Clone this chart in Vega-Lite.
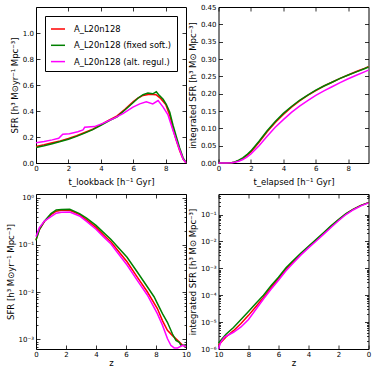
{
  "$schema": "https://vega.github.io/schema/vega-lite/v6.json",
  "padding": {"left": 5, "top": 2, "right": 0, "bottom": 0},
  "background": "white",
  "config": {
    "view": {"stroke": "black", "strokeWidth": 1},
    "font": "DejaVu Sans",
    "axis": {"grid": false, "domain": false, "tickSize": -4, "tickColor": "black", "tickWidth": 0.8,
      "labelFont": "DejaVu Sans", "labelFontSize": 7, "labelColor": "black", "labelFlush": false, "labelOverlap": false,
      "titleFont": "DejaVu Sans", "titleFontSize": 8.5, "titleFontWeight": "normal", "titleColor": "black"},
    "axisX": {"labelPadding": 5, "titlePadding": 1},
    "axisY": {"labelPadding": 6.5, "titlePadding": 3},
    "line": {"strokeWidth": 1.5, "clip": true}
  },
  "datasets": {
    "p1": [
      {"x":0,"y":0.127,"s":"A_L20n128"},{"x":0.5,"y":0.14,"s":"A_L20n128"},{"x":1,"y":0.155,"s":"A_L20n128"},{"x":1.5,"y":0.17,"s":"A_L20n128"},{"x":2,"y":0.188,"s":"A_L20n128"},{"x":2.5,"y":0.21,"s":"A_L20n128"},{"x":3,"y":0.235,"s":"A_L20n128"},{"x":3.5,"y":0.26,"s":"A_L20n128"},{"x":4,"y":0.295,"s":"A_L20n128"},{"x":4.5,"y":0.33,"s":"A_L20n128"},{"x":5,"y":0.362,"s":"A_L20n128"},{"x":5.5,"y":0.415,"s":"A_L20n128"},{"x":6,"y":0.472,"s":"A_L20n128"},{"x":6.3,"y":0.5,"s":"A_L20n128"},{"x":6.6,"y":0.52,"s":"A_L20n128"},{"x":7,"y":0.528,"s":"A_L20n128"},{"x":7.4,"y":0.525,"s":"A_L20n128"},{"x":7.7,"y":0.495,"s":"A_L20n128"},{"x":8.0,"y":0.45,"s":"A_L20n128"},{"x":8.25,"y":0.365,"s":"A_L20n128"},{"x":8.45,"y":0.26,"s":"A_L20n128"},{"x":8.66,"y":0.17,"s":"A_L20n128"},{"x":8.86,"y":0.095,"s":"A_L20n128"},{"x":9.07,"y":0.03,"s":"A_L20n128"},{"x":9.25,"y":0.002,"s":"A_L20n128"},
      {"x":0,"y":0.12,"s":"A_L20n128 (fixed soft.)"},{"x":0.5,"y":0.132,"s":"A_L20n128 (fixed soft.)"},{"x":1,"y":0.148,"s":"A_L20n128 (fixed soft.)"},{"x":1.5,"y":0.165,"s":"A_L20n128 (fixed soft.)"},{"x":2,"y":0.183,"s":"A_L20n128 (fixed soft.)"},{"x":2.5,"y":0.205,"s":"A_L20n128 (fixed soft.)"},{"x":3,"y":0.23,"s":"A_L20n128 (fixed soft.)"},{"x":3.5,"y":0.257,"s":"A_L20n128 (fixed soft.)"},{"x":4,"y":0.29,"s":"A_L20n128 (fixed soft.)"},{"x":4.5,"y":0.325,"s":"A_L20n128 (fixed soft.)"},{"x":5,"y":0.355,"s":"A_L20n128 (fixed soft.)"},{"x":5.5,"y":0.41,"s":"A_L20n128 (fixed soft.)"},{"x":6,"y":0.465,"s":"A_L20n128 (fixed soft.)"},{"x":6.3,"y":0.5,"s":"A_L20n128 (fixed soft.)"},{"x":6.6,"y":0.525,"s":"A_L20n128 (fixed soft.)"},{"x":6.9,"y":0.538,"s":"A_L20n128 (fixed soft.)"},{"x":7.2,"y":0.532,"s":"A_L20n128 (fixed soft.)"},{"x":7.42,"y":0.548,"s":"A_L20n128 (fixed soft.)"},{"x":7.6,"y":0.52,"s":"A_L20n128 (fixed soft.)"},{"x":7.84,"y":0.49,"s":"A_L20n128 (fixed soft.)"},{"x":8.04,"y":0.45,"s":"A_L20n128 (fixed soft.)"},{"x":8.25,"y":0.39,"s":"A_L20n128 (fixed soft.)"},{"x":8.45,"y":0.29,"s":"A_L20n128 (fixed soft.)"},{"x":8.66,"y":0.2,"s":"A_L20n128 (fixed soft.)"},{"x":8.86,"y":0.115,"s":"A_L20n128 (fixed soft.)"},{"x":9.07,"y":0.04,"s":"A_L20n128 (fixed soft.)"},{"x":9.25,"y":0.003,"s":"A_L20n128 (fixed soft.)"},
      {"x":0,"y":0.155,"s":"A_L20n128 (alt. regul.)"},{"x":0.5,"y":0.165,"s":"A_L20n128 (alt. regul.)"},{"x":1,"y":0.178,"s":"A_L20n128 (alt. regul.)"},{"x":1.4,"y":0.19,"s":"A_L20n128 (alt. regul.)"},{"x":1.65,"y":0.222,"s":"A_L20n128 (alt. regul.)"},{"x":2.06,"y":0.225,"s":"A_L20n128 (alt. regul.)"},{"x":2.58,"y":0.24,"s":"A_L20n128 (alt. regul.)"},{"x":2.9,"y":0.255,"s":"A_L20n128 (alt. regul.)"},{"x":3.0,"y":0.275,"s":"A_L20n128 (alt. regul.)"},{"x":3.6,"y":0.28,"s":"A_L20n128 (alt. regul.)"},{"x":4.12,"y":0.305,"s":"A_L20n128 (alt. regul.)"},{"x":4.74,"y":0.34,"s":"A_L20n128 (alt. regul.)"},{"x":5.36,"y":0.38,"s":"A_L20n128 (alt. regul.)"},{"x":5.98,"y":0.43,"s":"A_L20n128 (alt. regul.)"},{"x":6.4,"y":0.455,"s":"A_L20n128 (alt. regul.)"},{"x":6.8,"y":0.47,"s":"A_L20n128 (alt. regul.)"},{"x":7.2,"y":0.455,"s":"A_L20n128 (alt. regul.)"},{"x":7.53,"y":0.48,"s":"A_L20n128 (alt. regul.)"},{"x":7.84,"y":0.43,"s":"A_L20n128 (alt. regul.)"},{"x":8.14,"y":0.37,"s":"A_L20n128 (alt. regul.)"},{"x":8.45,"y":0.25,"s":"A_L20n128 (alt. regul.)"},{"x":8.76,"y":0.135,"s":"A_L20n128 (alt. regul.)"},{"x":9.07,"y":0.03,"s":"A_L20n128 (alt. regul.)"},{"x":9.25,"y":0.002,"s":"A_L20n128 (alt. regul.)"}
    ],
    "p2": [
      {"x":0,"y":0,"s":"A_L20n128"},{"x":0.5,"y":0,"s":"A_L20n128"},{"x":0.8,"y":0.001,"s":"A_L20n128"},{"x":1,"y":0.0025,"s":"A_L20n128"},{"x":1.25,"y":0.007,"s":"A_L20n128"},{"x":1.5,"y":0.013,"s":"A_L20n128"},{"x":1.75,"y":0.022,"s":"A_L20n128"},{"x":2,"y":0.032,"s":"A_L20n128"},{"x":2.5,"y":0.06,"s":"A_L20n128"},{"x":3,"y":0.09,"s":"A_L20n128"},{"x":3.5,"y":0.117,"s":"A_L20n128"},{"x":4,"y":0.14,"s":"A_L20n128"},{"x":4.5,"y":0.161,"s":"A_L20n128"},{"x":5,"y":0.179,"s":"A_L20n128"},{"x":5.5,"y":0.195,"s":"A_L20n128"},{"x":6,"y":0.209,"s":"A_L20n128"},{"x":6.5,"y":0.222,"s":"A_L20n128"},{"x":7,"y":0.233,"s":"A_L20n128"},{"x":7.5,"y":0.244,"s":"A_L20n128"},{"x":8,"y":0.254,"s":"A_L20n128"},{"x":8.5,"y":0.264,"s":"A_L20n128"},{"x":9,"y":0.273,"s":"A_L20n128"},{"x":9.25,"y":0.278,"s":"A_L20n128"},
      {"x":0,"y":0,"s":"A_L20n128 (fixed soft.)"},{"x":0.5,"y":0,"s":"A_L20n128 (fixed soft.)"},{"x":0.8,"y":0.001,"s":"A_L20n128 (fixed soft.)"},{"x":1,"y":0.003,"s":"A_L20n128 (fixed soft.)"},{"x":1.25,"y":0.008,"s":"A_L20n128 (fixed soft.)"},{"x":1.5,"y":0.015,"s":"A_L20n128 (fixed soft.)"},{"x":1.75,"y":0.024,"s":"A_L20n128 (fixed soft.)"},{"x":2,"y":0.035,"s":"A_L20n128 (fixed soft.)"},{"x":2.5,"y":0.063,"s":"A_L20n128 (fixed soft.)"},{"x":3,"y":0.093,"s":"A_L20n128 (fixed soft.)"},{"x":3.5,"y":0.12,"s":"A_L20n128 (fixed soft.)"},{"x":4,"y":0.143,"s":"A_L20n128 (fixed soft.)"},{"x":4.5,"y":0.163,"s":"A_L20n128 (fixed soft.)"},{"x":5,"y":0.181,"s":"A_L20n128 (fixed soft.)"},{"x":5.5,"y":0.196,"s":"A_L20n128 (fixed soft.)"},{"x":6,"y":0.21,"s":"A_L20n128 (fixed soft.)"},{"x":6.5,"y":0.222,"s":"A_L20n128 (fixed soft.)"},{"x":7,"y":0.233,"s":"A_L20n128 (fixed soft.)"},{"x":7.5,"y":0.244,"s":"A_L20n128 (fixed soft.)"},{"x":8,"y":0.254,"s":"A_L20n128 (fixed soft.)"},{"x":8.5,"y":0.263,"s":"A_L20n128 (fixed soft.)"},{"x":9,"y":0.272,"s":"A_L20n128 (fixed soft.)"},{"x":9.25,"y":0.277,"s":"A_L20n128 (fixed soft.)"},
      {"x":0,"y":0,"s":"A_L20n128 (alt. regul.)"},{"x":0.5,"y":0,"s":"A_L20n128 (alt. regul.)"},{"x":0.8,"y":0.0008,"s":"A_L20n128 (alt. regul.)"},{"x":1,"y":0.002,"s":"A_L20n128 (alt. regul.)"},{"x":1.25,"y":0.005,"s":"A_L20n128 (alt. regul.)"},{"x":1.5,"y":0.01,"s":"A_L20n128 (alt. regul.)"},{"x":1.75,"y":0.017,"s":"A_L20n128 (alt. regul.)"},{"x":2,"y":0.026,"s":"A_L20n128 (alt. regul.)"},{"x":2.5,"y":0.05,"s":"A_L20n128 (alt. regul.)"},{"x":3,"y":0.077,"s":"A_L20n128 (alt. regul.)"},{"x":3.5,"y":0.103,"s":"A_L20n128 (alt. regul.)"},{"x":4,"y":0.125,"s":"A_L20n128 (alt. regul.)"},{"x":4.5,"y":0.146,"s":"A_L20n128 (alt. regul.)"},{"x":5,"y":0.164,"s":"A_L20n128 (alt. regul.)"},{"x":5.5,"y":0.18,"s":"A_L20n128 (alt. regul.)"},{"x":6,"y":0.195,"s":"A_L20n128 (alt. regul.)"},{"x":6.5,"y":0.208,"s":"A_L20n128 (alt. regul.)"},{"x":7,"y":0.22,"s":"A_L20n128 (alt. regul.)"},{"x":7.5,"y":0.232,"s":"A_L20n128 (alt. regul.)"},{"x":8,"y":0.243,"s":"A_L20n128 (alt. regul.)"},{"x":8.5,"y":0.253,"s":"A_L20n128 (alt. regul.)"},{"x":9,"y":0.263,"s":"A_L20n128 (alt. regul.)"},{"x":9.25,"y":0.268,"s":"A_L20n128 (alt. regul.)"}
    ],
    "p3": [
      {"x":0,"y":0.128,"s":"A_L20n128"},{"x":0.22,"y":0.21,"s":"A_L20n128"},{"x":0.56,"y":0.314,"s":"A_L20n128"},{"x":1.0,"y":0.436,"s":"A_L20n128"},{"x":1.35,"y":0.52,"s":"A_L20n128"},{"x":1.7,"y":0.54,"s":"A_L20n128"},{"x":2.25,"y":0.54,"s":"A_L20n128"},{"x":2.9,"y":0.44,"s":"A_L20n128"},{"x":3.37,"y":0.34,"s":"A_L20n128"},{"x":4.0,"y":0.235,"s":"A_L20n128"},{"x":4.49,"y":0.165,"s":"A_L20n128"},{"x":5.0,"y":0.115,"s":"A_L20n128"},{"x":5.39,"y":0.081,"s":"A_L20n128"},{"x":6.07,"y":0.044,"s":"A_L20n128"},{"x":6.74,"y":0.021,"s":"A_L20n128"},{"x":7.42,"y":0.0102,"s":"A_L20n128"},{"x":8.09,"y":0.0045,"s":"A_L20n128"},{"x":8.43,"y":0.0025,"s":"A_L20n128"},{"x":8.76,"y":0.00155,"s":"A_L20n128"},{"x":9.1,"y":0.0012,"s":"A_L20n128"},{"x":9.44,"y":0.00095,"s":"A_L20n128"},{"x":9.78,"y":0.00075,"s":"A_L20n128"},{"x":10,"y":0.0007,"s":"A_L20n128"},
      {"x":0,"y":0.125,"s":"A_L20n128 (fixed soft.)"},{"x":0.22,"y":0.21,"s":"A_L20n128 (fixed soft.)"},{"x":0.56,"y":0.32,"s":"A_L20n128 (fixed soft.)"},{"x":1.0,"y":0.46,"s":"A_L20n128 (fixed soft.)"},{"x":1.35,"y":0.55,"s":"A_L20n128 (fixed soft.)"},{"x":1.7,"y":0.565,"s":"A_L20n128 (fixed soft.)"},{"x":2.25,"y":0.57,"s":"A_L20n128 (fixed soft.)"},{"x":2.9,"y":0.46,"s":"A_L20n128 (fixed soft.)"},{"x":3.37,"y":0.37,"s":"A_L20n128 (fixed soft.)"},{"x":4.0,"y":0.26,"s":"A_L20n128 (fixed soft.)"},{"x":4.49,"y":0.185,"s":"A_L20n128 (fixed soft.)"},{"x":5.0,"y":0.13,"s":"A_L20n128 (fixed soft.)"},{"x":5.39,"y":0.095,"s":"A_L20n128 (fixed soft.)"},{"x":6.07,"y":0.055,"s":"A_L20n128 (fixed soft.)"},{"x":6.74,"y":0.027,"s":"A_L20n128 (fixed soft.)"},{"x":7.42,"y":0.013,"s":"A_L20n128 (fixed soft.)"},{"x":7.87,"y":0.008,"s":"A_L20n128 (fixed soft.)"},{"x":8.09,"y":0.0058,"s":"A_L20n128 (fixed soft.)"},{"x":8.43,"y":0.0035,"s":"A_L20n128 (fixed soft.)"},{"x":8.76,"y":0.0023,"s":"A_L20n128 (fixed soft.)"},{"x":9.1,"y":0.0013,"s":"A_L20n128 (fixed soft.)"},{"x":9.33,"y":0.00095,"s":"A_L20n128 (fixed soft.)"},{"x":9.55,"y":0.00087,"s":"A_L20n128 (fixed soft.)"},{"x":9.66,"y":0.00075,"s":"A_L20n128 (fixed soft.)"},{"x":9.9,"y":0.00075,"s":"A_L20n128 (fixed soft.)"},{"x":10,"y":0.0007,"s":"A_L20n128 (fixed soft.)"},
      {"x":0,"y":0.15,"s":"A_L20n128 (alt. regul.)"},{"x":0.22,"y":0.23,"s":"A_L20n128 (alt. regul.)"},{"x":0.56,"y":0.32,"s":"A_L20n128 (alt. regul.)"},{"x":1.0,"y":0.4,"s":"A_L20n128 (alt. regul.)"},{"x":1.35,"y":0.47,"s":"A_L20n128 (alt. regul.)"},{"x":1.7,"y":0.49,"s":"A_L20n128 (alt. regul.)"},{"x":2.25,"y":0.5,"s":"A_L20n128 (alt. regul.)"},{"x":2.9,"y":0.41,"s":"A_L20n128 (alt. regul.)"},{"x":3.37,"y":0.315,"s":"A_L20n128 (alt. regul.)"},{"x":4.0,"y":0.215,"s":"A_L20n128 (alt. regul.)"},{"x":4.49,"y":0.15,"s":"A_L20n128 (alt. regul.)"},{"x":5.0,"y":0.105,"s":"A_L20n128 (alt. regul.)"},{"x":5.39,"y":0.072,"s":"A_L20n128 (alt. regul.)"},{"x":6.07,"y":0.0376,"s":"A_L20n128 (alt. regul.)"},{"x":6.74,"y":0.018,"s":"A_L20n128 (alt. regul.)"},{"x":7.42,"y":0.0087,"s":"A_L20n128 (alt. regul.)"},{"x":8.09,"y":0.0035,"s":"A_L20n128 (alt. regul.)"},{"x":8.43,"y":0.002,"s":"A_L20n128 (alt. regul.)"},{"x":8.76,"y":0.00104,"s":"A_L20n128 (alt. regul.)"},{"x":8.99,"y":0.00075,"s":"A_L20n128 (alt. regul.)"},{"x":9.21,"y":0.00066,"s":"A_L20n128 (alt. regul.)"},{"x":9.44,"y":0.00066,"s":"A_L20n128 (alt. regul.)"},{"x":9.78,"y":0.00075,"s":"A_L20n128 (alt. regul.)"},{"x":10,"y":0.0007,"s":"A_L20n128 (alt. regul.)"}
    ],
    "p4": [
      {"x":10,"y":1.41e-6,"s":"A_L20n128"},{"x":9.5,"y":2.8e-6,"s":"A_L20n128"},{"x":9,"y":4.8e-6,"s":"A_L20n128"},{"x":8.5,"y":8.9e-6,"s":"A_L20n128"},{"x":8,"y":1.78e-5,"s":"A_L20n128"},{"x":7.5,"y":3.8e-5,"s":"A_L20n128"},{"x":7,"y":8.3e-5,"s":"A_L20n128"},{"x":6.5,"y":1.9e-4,"s":"A_L20n128"},{"x":6,"y":4.2e-4,"s":"A_L20n128"},{"x":5.5,"y":9.3e-4,"s":"A_L20n128"},{"x":5,"y":1.82e-3,"s":"A_L20n128"},{"x":4.5,"y":3.47e-3,"s":"A_L20n128"},{"x":4,"y":6.3e-3,"s":"A_L20n128"},{"x":3.5,"y":0.0112,"s":"A_L20n128"},{"x":3,"y":0.02,"s":"A_L20n128"},{"x":2.5,"y":0.0363,"s":"A_L20n128"},{"x":2,"y":0.063,"s":"A_L20n128"},{"x":1.5,"y":0.107,"s":"A_L20n128"},{"x":1,"y":0.158,"s":"A_L20n128"},{"x":0.5,"y":0.219,"s":"A_L20n128"},{"x":0,"y":0.278,"s":"A_L20n128"},
      {"x":10,"y":1.66e-6,"s":"A_L20n128 (fixed soft.)"},{"x":9.5,"y":3.55e-6,"s":"A_L20n128 (fixed soft.)"},{"x":9,"y":6.3e-6,"s":"A_L20n128 (fixed soft.)"},{"x":8.5,"y":1.26e-5,"s":"A_L20n128 (fixed soft.)"},{"x":8,"y":2.5e-5,"s":"A_L20n128 (fixed soft.)"},{"x":7.5,"y":5.0e-5,"s":"A_L20n128 (fixed soft.)"},{"x":7,"y":1.0e-4,"s":"A_L20n128 (fixed soft.)"},{"x":6.5,"y":2.24e-4,"s":"A_L20n128 (fixed soft.)"},{"x":6,"y":4.68e-4,"s":"A_L20n128 (fixed soft.)"},{"x":5.5,"y":1.05e-3,"s":"A_L20n128 (fixed soft.)"},{"x":5,"y":2.0e-3,"s":"A_L20n128 (fixed soft.)"},{"x":4.5,"y":3.7e-3,"s":"A_L20n128 (fixed soft.)"},{"x":4,"y":6.6e-3,"s":"A_L20n128 (fixed soft.)"},{"x":3.5,"y":0.0117,"s":"A_L20n128 (fixed soft.)"},{"x":3,"y":0.0209,"s":"A_L20n128 (fixed soft.)"},{"x":2.5,"y":0.038,"s":"A_L20n128 (fixed soft.)"},{"x":2,"y":0.065,"s":"A_L20n128 (fixed soft.)"},{"x":1.5,"y":0.109,"s":"A_L20n128 (fixed soft.)"},{"x":1,"y":0.16,"s":"A_L20n128 (fixed soft.)"},{"x":0.5,"y":0.22,"s":"A_L20n128 (fixed soft.)"},{"x":0,"y":0.277,"s":"A_L20n128 (fixed soft.)"},
      {"x":10,"y":1.02e-6,"s":"A_L20n128 (alt. regul.)"},{"x":9.85,"y":1.78e-6,"s":"A_L20n128 (alt. regul.)"},{"x":9.6,"y":2.8e-6,"s":"A_L20n128 (alt. regul.)"},{"x":9,"y":4.2e-6,"s":"A_L20n128 (alt. regul.)"},{"x":8.5,"y":6.6e-6,"s":"A_L20n128 (alt. regul.)"},{"x":8,"y":1.26e-5,"s":"A_L20n128 (alt. regul.)"},{"x":7.5,"y":3.0e-5,"s":"A_L20n128 (alt. regul.)"},{"x":7,"y":7.2e-5,"s":"A_L20n128 (alt. regul.)"},{"x":6.5,"y":1.66e-4,"s":"A_L20n128 (alt. regul.)"},{"x":6,"y":3.6e-4,"s":"A_L20n128 (alt. regul.)"},{"x":5.5,"y":8.1e-4,"s":"A_L20n128 (alt. regul.)"},{"x":5,"y":1.62e-3,"s":"A_L20n128 (alt. regul.)"},{"x":4.5,"y":3.16e-3,"s":"A_L20n128 (alt. regul.)"},{"x":4,"y":5.75e-3,"s":"A_L20n128 (alt. regul.)"},{"x":3.5,"y":0.0102,"s":"A_L20n128 (alt. regul.)"},{"x":3,"y":0.0182,"s":"A_L20n128 (alt. regul.)"},{"x":2.5,"y":0.0331,"s":"A_L20n128 (alt. regul.)"},{"x":2,"y":0.0589,"s":"A_L20n128 (alt. regul.)"},{"x":1.5,"y":0.1,"s":"A_L20n128 (alt. regul.)"},{"x":1,"y":0.151,"s":"A_L20n128 (alt. regul.)"},{"x":0.5,"y":0.209,"s":"A_L20n128 (alt. regul.)"},{"x":0,"y":0.271,"s":"A_L20n128 (alt. regul.)"}
    ]
  },
  "bounds": "flush",
  "columns": 2,
  "spacing": {"row": 31, "column": 32.5},
  "resolve": {"scale": {"color": "independent", "x": "independent", "y": "independent"}},
  "concat": [
    {
      "width": 150, "height": 156,
      "data": {"name": "p1"},
      "resolve": {"scale": {"x": "independent", "y": "independent"}},
      "layer": [
        {
          "mark": {"type": "line"},
          "encoding": {
            "x": {"field": "x", "type": "quantitative", "scale": {"domain": [0, 9.25], "nice": false, "zero": false}, "axis": {"values": [0, 2, 4, 6, 8], "title": "t_lookback [h⁻¹ Gyr]", "titlePadding": 6}},
            "y": {"field": "y", "type": "quantitative", "scale": {"domain": [0, 1.2], "nice": false}, "axis": {"values": [0, 0.2, 0.4, 0.6, 0.8, 1.0], "format": ".1f", "title": "SFR [h³ M⊙yr⁻¹ Mpc⁻³]"}},
            "color": {"field": "s", "type": "nominal",
              "scale": {"domain": ["A_L20n128", "A_L20n128 (fixed soft.)", "A_L20n128 (alt. regul.)"], "range": ["#ff0000", "#008000", "#ff00ff"]},
              "legend": {"title": null, "orient": "top-left", "offset": 9, "padding": 5, "strokeColor": "black", "fillColor": "white", "cornerRadius": 0,
                "symbolType": "stroke", "symbolSize": 196, "symbolStrokeWidth": 2, "labelFont": "DejaVu Sans", "labelFontSize": 8.4, "labelColor": "black", "labelOffset": 8, "rowPadding": 3.3, "labelLimit": 300}}
          }
        },
        {
          "mark": {"type": "line", "strokeOpacity": 0},
          "encoding": {
            "x": {"field": "x", "type": "quantitative", "scale": {"domain": [0, 9.25], "nice": false, "zero": false}, "axis": {"orient": "top", "values": [0, 2, 4, 6, 8], "labels": false, "title": null}},
            "y": {"field": "y", "type": "quantitative", "scale": {"domain": [0, 1.2], "nice": false}, "axis": {"orient": "right", "values": [0, 0.2, 0.4, 0.6, 0.8, 1.0], "labels": false, "title": null}}
          }
        }
      ]
    },
    {
      "width": 150, "height": 156,
      "data": {"name": "p2"},
      "resolve": {"scale": {"x": "independent", "y": "independent"}},
      "layer": [
        {
          "mark": {"type": "line"},
          "encoding": {
            "x": {"field": "x", "type": "quantitative", "scale": {"domain": [0, 9.25], "nice": false, "zero": false}, "axis": {"values": [0, 2, 4, 6, 8], "title": "t_elapsed [h⁻¹ Gyr]", "titlePadding": 6}},
            "y": {"field": "y", "type": "quantitative", "scale": {"domain": [0, 0.45], "nice": false}, "axis": {"values": [0, 0.05, 0.1, 0.15, 0.2, 0.25, 0.3, 0.35, 0.4, 0.45], "format": ".2f", "title": "integrated SFR [h³ M⊙ Mpc⁻³]"}},
            "color": {"field": "s", "type": "nominal",
              "scale": {"domain": ["A_L20n128", "A_L20n128 (fixed soft.)", "A_L20n128 (alt. regul.)"], "range": ["#ff0000", "#008000", "#ff00ff"]},
              "legend": null}
          }
        },
        {
          "mark": {"type": "line", "strokeOpacity": 0},
          "encoding": {
            "x": {"field": "x", "type": "quantitative", "scale": {"domain": [0, 9.25], "nice": false, "zero": false}, "axis": {"orient": "top", "values": [0, 2, 4, 6, 8], "labels": false, "title": null}},
            "y": {"field": "y", "type": "quantitative", "scale": {"domain": [0, 0.45], "nice": false}, "axis": {"orient": "right", "values": [0, 0.05, 0.1, 0.15, 0.2, 0.25, 0.3, 0.35, 0.4, 0.45], "labels": false, "title": null}}
          }
        }
      ]
    },
    {
      "width": 150, "height": 155,
      "data": {"name": "p3"},
      "resolve": {"scale": {"x": "independent", "y": "independent"}},
      "layer": [
        {
          "mark": {"type": "line"},
          "encoding": {
            "x": {"field": "x", "type": "quantitative", "scale": {"domain": [0, 10], "nice": false, "zero": false}, "axis": {"values": [0, 2, 4, 6, 8, 10], "title": "z"}},
            "y": {"field": "y", "type": "quantitative", "scale": {"type": "log", "domain": [0.000625, 1.2], "nice": false}, "axis": {
              "values": [0.0007, 0.0008, 0.0009, 0.001, 0.002, 0.003, 0.004, 0.005, 0.006, 0.007, 0.008, 0.009, 0.01, 0.02, 0.03, 0.04, 0.05, 0.06, 0.07, 0.08, 0.09, 0.1, 0.2, 0.3, 0.4, 0.5, 0.6, 0.7, 0.8, 0.9, 1],
              "tickSize": {"condition": {"test": "abs(log(datum.value)/LN10 - round(log(datum.value)/LN10)) < 0.01", "value": -4}, "value": -2},
              "labelExpr": "abs(log(datum.value)/LN10 - round(log(datum.value)/LN10)) >= 0.01 ? '' : datum.value >= 0.5 ? '10⁰' : datum.value >= 0.05 ? '10⁻¹' : datum.value >= 0.005 ? '10⁻²' : '10⁻³'", "title": "SFR [h³ M⊙yr⁻¹ Mpc⁻³]"}},
            "color": {"field": "s", "type": "nominal",
              "scale": {"domain": ["A_L20n128", "A_L20n128 (fixed soft.)", "A_L20n128 (alt. regul.)"], "range": ["#ff0000", "#008000", "#ff00ff"]},
              "legend": null}
          }
        },
        {
          "mark": {"type": "line", "strokeOpacity": 0},
          "encoding": {
            "x": {"field": "x", "type": "quantitative", "scale": {"domain": [0, 10], "nice": false, "zero": false}, "axis": {"orient": "top", "values": [0, 2, 4, 6, 8, 10], "labels": false, "title": null}},
            "y": {"field": "y", "type": "quantitative", "scale": {"type": "log", "domain": [0.000625, 1.2], "nice": false}, "axis": {"orient": "right",
              "values": [0.0007, 0.0008, 0.0009, 0.001, 0.002, 0.003, 0.004, 0.005, 0.006, 0.007, 0.008, 0.009, 0.01, 0.02, 0.03, 0.04, 0.05, 0.06, 0.07, 0.08, 0.09, 0.1, 0.2, 0.3, 0.4, 0.5, 0.6, 0.7, 0.8, 0.9, 1],
              "tickSize": {"condition": {"test": "abs(log(datum.value)/LN10 - round(log(datum.value)/LN10)) < 0.01", "value": -4}, "value": -2},
              "labels": false, "title": null}}
          }
        }
      ]
    },
    {
      "width": 150, "height": 155,
      "data": {"name": "p4"},
      "resolve": {"scale": {"x": "independent", "y": "independent"}},
      "layer": [
        {
          "mark": {"type": "line"},
          "encoding": {
            "x": {"field": "x", "type": "quantitative", "scale": {"domain": [0, 10], "reverse": true, "nice": false, "zero": false}, "axis": {"values": [0, 2, 4, 6, 8, 10], "title": "z"}},
            "y": {"field": "y", "type": "quantitative", "scale": {"type": "log", "domain": [0.000001, 0.58], "nice": false}, "axis": {
              "values": [0.000001, 0.000002, 0.000003, 0.000004, 0.000005, 0.000006, 0.000007, 0.000008, 0.000009, 0.00001, 0.00002, 0.00003, 0.00004, 0.00005, 0.00006, 0.00007, 0.00008, 0.00009, 0.0001, 0.0002, 0.0003, 0.0004, 0.0005, 0.0006, 0.0007, 0.0008, 0.0009, 0.001, 0.002, 0.003, 0.004, 0.005, 0.006, 0.007, 0.008, 0.009, 0.01, 0.02, 0.03, 0.04, 0.05, 0.06, 0.07, 0.08, 0.09, 0.1, 0.2, 0.3, 0.4, 0.5],
              "tickSize": {"condition": {"test": "abs(log(datum.value)/LN10 - round(log(datum.value)/LN10)) < 0.01", "value": -4}, "value": -2},
              "labelExpr": "abs(log(datum.value)/LN10 - round(log(datum.value)/LN10)) >= 0.01 ? '' : datum.value >= 0.05 ? '10⁻¹' : datum.value >= 0.005 ? '10⁻²' : datum.value >= 0.0005 ? '10⁻³' : datum.value >= 0.00005 ? '10⁻⁴' : datum.value >= 0.000005 ? '10⁻⁵' : '10⁻⁶'", "title": "integrated SFR [h³ M⊙ Mpc⁻³]"}},
            "color": {"field": "s", "type": "nominal",
              "scale": {"domain": ["A_L20n128", "A_L20n128 (fixed soft.)", "A_L20n128 (alt. regul.)"], "range": ["#ff0000", "#008000", "#ff00ff"]},
              "legend": null}
          }
        },
        {
          "mark": {"type": "line", "strokeOpacity": 0},
          "encoding": {
            "x": {"field": "x", "type": "quantitative", "scale": {"domain": [0, 10], "reverse": true, "nice": false, "zero": false}, "axis": {"orient": "top", "values": [0, 2, 4, 6, 8, 10], "labels": false, "title": null}},
            "y": {"field": "y", "type": "quantitative", "scale": {"type": "log", "domain": [0.000001, 0.58], "nice": false}, "axis": {"orient": "right",
              "values": [0.000001, 0.000002, 0.000003, 0.000004, 0.000005, 0.000006, 0.000007, 0.000008, 0.000009, 0.00001, 0.00002, 0.00003, 0.00004, 0.00005, 0.00006, 0.00007, 0.00008, 0.00009, 0.0001, 0.0002, 0.0003, 0.0004, 0.0005, 0.0006, 0.0007, 0.0008, 0.0009, 0.001, 0.002, 0.003, 0.004, 0.005, 0.006, 0.007, 0.008, 0.009, 0.01, 0.02, 0.03, 0.04, 0.05, 0.06, 0.07, 0.08, 0.09, 0.1, 0.2, 0.3, 0.4, 0.5],
              "tickSize": {"condition": {"test": "abs(log(datum.value)/LN10 - round(log(datum.value)/LN10)) < 0.01", "value": -4}, "value": -2},
              "labels": false, "title": null}}
          }
        }
      ]
    }
  ]
}
